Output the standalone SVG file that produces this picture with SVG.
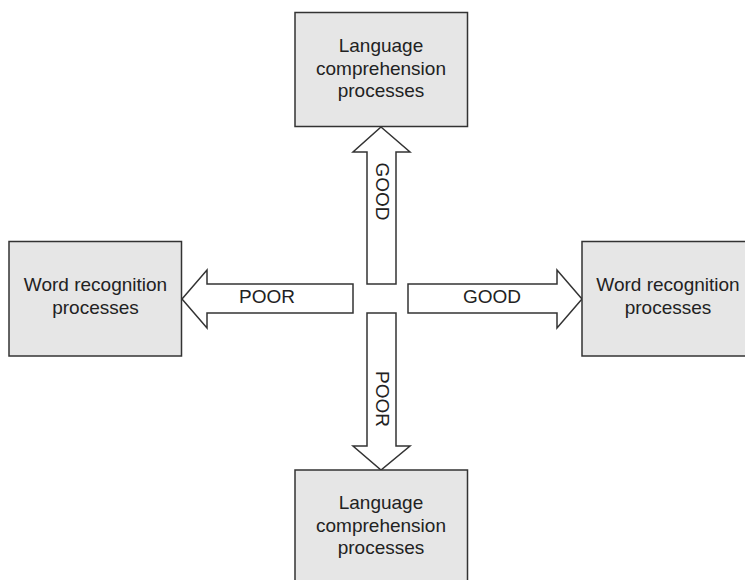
<svg xmlns="http://www.w3.org/2000/svg" width="745" height="580" viewBox="0 0 745 580">
  <style>
    .box { fill: #e6e6e6; stroke: #333333; stroke-width: 1.5; }
    .arrow { fill: #ffffff; stroke: #333333; stroke-width: 1.5; stroke-linejoin: miter; }
    text { font-family: "Liberation Sans", Arial, sans-serif; font-size: 19px; fill: #222222; text-anchor: middle; }
  </style>
  <rect width="745" height="580" fill="#ffffff"/>

  <!-- block arrows between the process boxes -->
  <g id="connectors">
    <g id="arrow-up">
      <polygon class="arrow" points="381,127 410,152 396,152 396,284 367,284 367,152 353,152"/>
      <text transform="translate(376,191.5) rotate(90)">GOOD</text>
    </g>
    <g id="arrow-down">
      <polygon class="arrow" points="367,313 396,313 396,446 410,446 381,470 353,446 367,446"/>
      <text transform="translate(376,399) rotate(90)">POOR</text>
    </g>
    <g id="arrow-left">
      <polygon class="arrow" points="182,299 207,270 207,284 353,284 353,313 207,313 207,328"/>
      <text x="267" y="303">POOR</text>
    </g>
    <g id="arrow-right">
      <polygon class="arrow" points="408,284 557,284 557,270 582,299 557,328 557,313 408,313"/>
      <text x="492" y="303">GOOD</text>
    </g>
  </g>

  <g id="lang-top">
    <rect class="box" x="295" y="12.5" width="172.5" height="114"/>
    <text x="381" y="52">Language</text>
    <text x="381" y="74.5">comprehension</text>
    <text x="381" y="97">processes</text>
  </g>

  <g id="word-left">
    <rect class="box" x="9" y="241.5" width="172.5" height="114.5"/>
    <text x="95.5" y="291">Word recognition</text>
    <text x="95.5" y="313.5">processes</text>
  </g>

  <g id="word-right">
    <rect class="box" x="582" y="241.5" width="175" height="114.5"/>
    <text x="668" y="291">Word recognition</text>
    <text x="668" y="313.5">processes</text>
  </g>

  <g id="lang-bottom">
    <rect class="box" x="295" y="470" width="172.5" height="120"/>
    <text x="381" y="509">Language</text>
    <text x="381" y="531.5">comprehension</text>
    <text x="381" y="554">processes</text>
  </g>
</svg>
